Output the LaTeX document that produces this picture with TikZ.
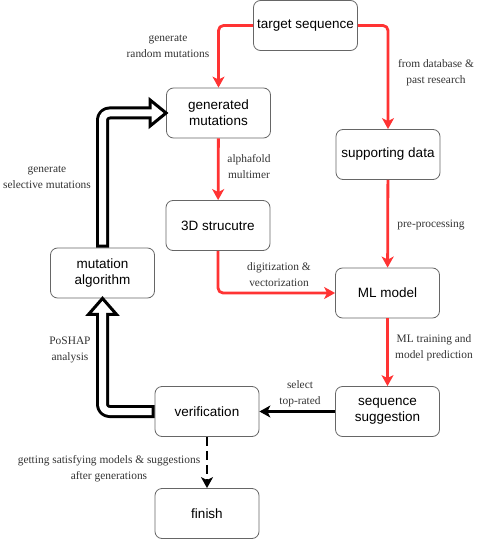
\documentclass[tikz,border=0pt]{standalone}
\usepackage{fontspec}
\setmainfont{Liberation Serif}
\newfontfamily\boxfont{Liberation Sans}
\usetikzlibrary{arrows.meta}
\definecolor{flowred}{RGB}{255,51,51}
\definecolor{boxgray}{RGB}{102,102,102}
\definecolor{labelgray}{RGB}{51,51,51}
\begin{document}
\begin{tikzpicture}[x=1pt,y=-1pt,line join=round,
  >={Stealth[length=11pt,width=12pt,inset=3pt]},
  procbox/.style={draw=boxgray,line width=0.8pt,rounded corners=7pt,fill=white,
    minimum width=104pt,minimum height=50pt,inner sep=2pt,align=center,
    font=\boxfont\fontsize{13.5}{16}\selectfont},
  lbl/.style={align=center,inner sep=0pt,text=labelgray,font=\fontsize{11.4}{16}\selectfont},
  redarrow/.style={->,draw=flowred,line width=2.8pt,rounded corners=5pt},
  blackarrow/.style={->,line width=2.6pt},
  dasharrow/.style={->,line width=2.8pt,dash pattern=on 9pt off 5pt},
  flexout/.style={line width=13pt,rounded corners=7pt},
  flexin/.style={draw=white,line width=7pt,rounded corners=7pt},
  flexhead/.style={fill=white,line width=3pt,line join=miter}]
\useasboundingbox (0,0) rectangle (477,540);

% process boxes
\node[procbox] (tgt) at (305.5,25.5) {target sequence};
\node[procbox] (gen) at (218.5,113) {generated\\mutations};
\node[procbox] (sup) at (388,154.5) {supporting data};
\node[procbox] (struct) at (218,225.5) {3D strucutre};
\node[procbox] (alg) at (102.5,273) {mutation\\algorithm};
\node[procbox] (ml) at (387.5,293) {ML model};
\node[procbox] (ver) at (207,411.5) {verification};
\node[procbox] (sug) at (387.5,411.5) {sequence\\suggestion};
\node[procbox] (fin) at (207,513.5) {finish};

% red flow
\draw[redarrow] (tgt.west) -| (gen.north);
\draw[redarrow] (tgt.east) -| (sup.north);
\draw[redarrow] (gen) -- (struct);
\draw[redarrow] (struct.south) |- (ml.west);
\draw[redarrow] (sup) -- (ml);
\draw[redarrow] (ml) -- (sug);
\draw[blackarrow] (sug) -- (ver);
\draw[dasharrow] (ver) -- (fin);

% hollow arrows
\draw[flexout] (alg.north) |- ([xshift=-16pt]gen.west);
\draw[flexhead] ([xshift=-16pt,yshift=13pt]gen.west) -- (gen.west) -- ([xshift=-16pt,yshift=-13pt]gen.west) -- cycle;
\draw[flexin] ([yshift=3pt]alg.north) |- ([xshift=-12pt]gen.west);
\draw[flexout] (ver.west) -| ([yshift=-16pt]alg.south);
\draw[flexhead] ([xshift=-14pt,yshift=-16pt]alg.south) -- (alg.south) -- ([xshift=14pt,yshift=-16pt]alg.south) -- cycle;
\draw[flexin] ([xshift=-3pt]ver.west) -| ([yshift=-12pt]alg.south);

% labels
\node[lbl] (lrand) at (168,46) {generate\\random mutations};
\node[lbl] (ldata) at (436,73) {from database \&\\past research};
\node[lbl] (lfold) at (249,167) {alphafold\\multimer};
\node[lbl] (lsel) at (47,177) {generate\\selective mutations};
\node[lbl] (lpre) at (431,225) {pre-processing};
\node[lbl] (ldig) at (279,275) {digitization \&\\vectorization};
\node[lbl] (ltrain) at (434,348) {ML training and\\model prediction};
\node[lbl] (lshap) at (70,350) {PoSHAP\\analysis};
\node[lbl] (ltop) at (300,394) {select\\top-rated};
\node[lbl] (lsat) at (109,469) {getting satisfying models \& suggestions\\after generations};
\end{tikzpicture}
\end{document}
